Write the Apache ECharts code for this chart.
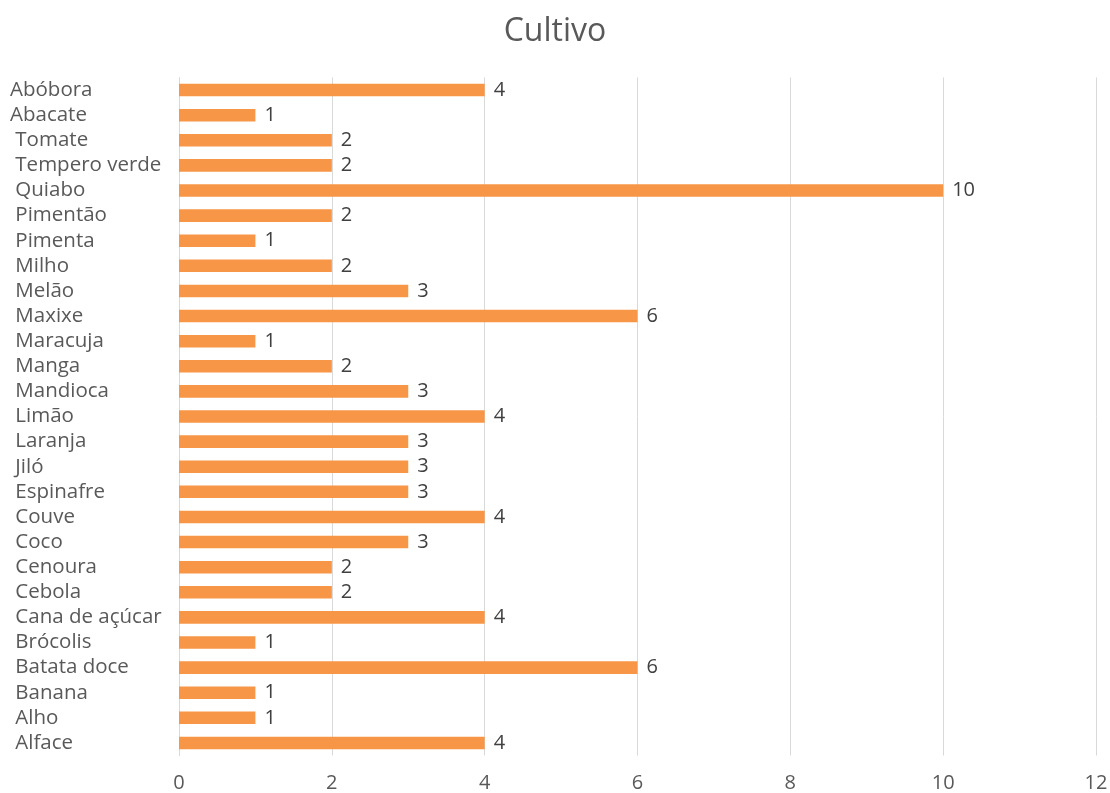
<!DOCTYPE html>
<html><head><meta charset="utf-8">
<script src="https://cdn.jsdelivr.net/npm/echarts@6/dist/echarts.min.js"></script>
<style>html,body{margin:0;padding:0;background:#fff}#c{width:1110px;height:793px}</style>
</head><body><div id="c"></div>
<script>
var categories = ["Abóbora","Abacate"," Tomate"," Tempero verde"," Quiabo"," Pimentão"," Pimenta"," Milho"," Melão"," Maxixe"," Maracuja"," Manga"," Mandioca"," Limão"," Laranja"," Jiló"," Espinafre"," Couve"," Coco"," Cenoura"," Cebola"," Cana de açúcar"," Brócolis"," Batata doce"," Banana"," Alho"," Alface"];
var values = [4,1,2,2,10,2,1,2,3,6,1,2,3,4,3,3,3,4,3,2,2,4,1,6,1,1,4];
var xTicks = [0,2,4,6,8,10,12];

var font = "'Open Sans', 'Noto Sans', sans-serif";
var chart = echarts.init(document.getElementById('c'));
chart.setOption({
  animation: false,
  title: {text: 'Cultivo', left: 'center', top: 11, textStyle: {fontFamily: font, fontSize: 32, fontWeight: 'normal', color: '#595959'}},
  grid: {left: 179, right: 14, top: 77.5, bottom: 37.5, containLabel: false, outerBoundsMode: 'none'},
  xAxis: {type: 'value', min: xTicks[0], max: xTicks[xTicks.length-1], interval: 2,
    axisLine: {show: false}, axisTick: {show: false},
    splitLine: {lineStyle: {color: '#D9D9D9', width: 1}},
    axisLabel: {fontFamily: font, fontSize: 20, color: '#595959', margin: 18}},
  yAxis: {type: 'category', data: categories, inverse: true,
    axisLine: {lineStyle: {color: '#D9D9D9'}}, axisTick: {show: false},
    axisLabel: {interval: 0, hideOverlap: false, align: 'left', margin: 169, fontFamily: font, fontSize: 20.5, lineHeight: 20, padding: [4, 0, 0, 0], color: '#595959'}},
  series: [{type: 'bar', data: values, barWidth: '50%', itemStyle: {color: '#F79646'},
    label: {show: true, position: 'right', distance: 9, fontFamily: font, fontSize: 20, padding: [4, 0, 0, 0], color: '#404040'}}]
});
</script></body></html>
